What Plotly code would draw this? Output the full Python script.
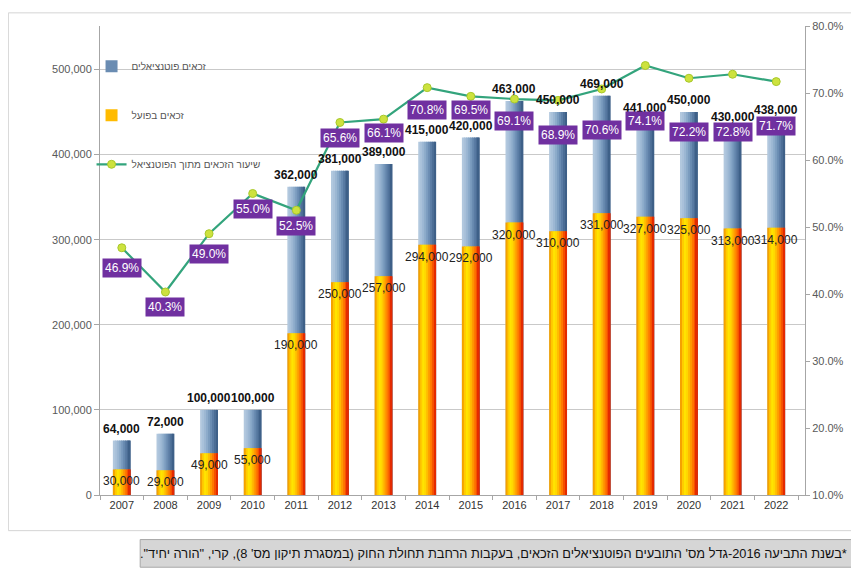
import plotly.graph_objects as go

# ---------------- data ----------------
years = list(range(2007, 2023))
potential = [64000, 72000, 100000, 100000, 362000, 381000, 389000, 415000,
             420000, 463000, 450000, 469000, 441000, 450000, 430000, 438000]
actual = [30000, 29000, 49000, 55000, 190000, 250000, 257000, 294000,
          292000, 320000, 310000, 331000, 327000, 325000, 313000, 314000]
rate = [46.9, 40.3, 49.0, 55.0, 52.5, 65.6, 66.1, 70.8,
        69.5, 69.1, 68.9, 70.6, 74.1, 72.2, 72.8, 71.7]

name_potential = "זכאים פוטנציאלים"
name_actual = "זכאים בפועל"
name_rate = "שיעור הזכאים מתוך הפוטנציאל"
note = "*בשנת התביעה 2016-גדל מס' התובעים הפוטנציאלים הזכאים, בעקבות הרחבת תחולת החוק (במסגרת תיקון מס' 8), קרי, \"הורה יחיד\"."

# ---------------- style ----------------
FONT = "Liberation Sans, Arial, sans-serif"
blue_stripes = ['#b2c8de', '#a9c1da', '#9cb7d3', '#8cabca', '#7b9cbf',
                '#6a8cb2', '#5a7ca4', '#4b6d95', '#3e6088']
orange_stripes = ['#f5a200', '#ffcc00', '#ffe400', '#ffd800', '#ffbb00',
                  '#ff9a00', '#ff7800', '#f55000', '#e42a00']
bar_w = 0.41
n = len(blue_stripes)
sw = bar_w / n
# per-label vertical offsets (px) for percentage boxes
rate_label_shift = [-20, -15, -20, -15, -16, -16, -14, -22,
                    -14, -22, -35, -41, -55, -54, -58, -44]

fig = go.Figure()

for i, c in enumerate(blue_stripes):
    w = sw if i == n - 1 else sw * 1.6
    fig.add_trace(go.Bar(
        x=years, y=potential, width=w, offset=-bar_w / 2 + i * sw,
        marker=dict(color=c, line=dict(width=0)), name=name_potential,
        legendgroup="pot", showlegend=(i == 5), hoverinfo="skip"))
for i, c in enumerate(orange_stripes):
    w = sw if i == n - 1 else sw * 1.6
    fig.add_trace(go.Bar(
        x=years, y=actual, width=w, offset=-bar_w / 2 + i * sw,
        marker=dict(color=c, line=dict(width=0)), name=name_actual,
        legendgroup="act", showlegend=(i == 4), hoverinfo="skip"))

fig.add_trace(go.Scatter(
    x=years, y=rate, yaxis="y2", mode="lines+markers", name=name_rate,
    legendgroup="rate",
    line=dict(color="#33a47c", width=2.2),
    marker=dict(symbol="circle", size=8, color="#cde23e",
                line=dict(color="#a8c82c", width=1))))

ann = []
for y, t in zip(years, potential):
    ann.append(dict(x=y, y=t, xref="x", yref="y", text=f"<b>{t:,}</b>",
                    showarrow=False, yanchor="bottom", yshift=3,
                    font=dict(family=FONT, size=12, color="#111")))
for y, a in zip(years, actual):
    ann.append(dict(x=y, y=a, xref="x", yref="y", text=f"{a:,}",
                    showarrow=False, yanchor="middle", yshift=-12,
                    font=dict(family=FONT, size=12, color="#222")))
for y, r, s in zip(years, rate, rate_label_shift):
    ann.append(dict(x=y, y=r, xref="x", yref="y2", text=f"{r:.1f}%",
                    showarrow=False, yanchor="middle", yshift=s,
                    bgcolor="#7030a0", borderpad=2,
                    font=dict(family=FONT, size=12, color="white")))
ann.append(dict(x=1.062, y=-0.124, xref="paper", yref="paper",
                text="\u202B" + note + "\u202C",
                showarrow=False, xanchor="right", yanchor="middle",
                font=dict(family=FONT, size=12.8, color="#111")))

shapes = [
    dict(type="rect", xref="paper", yref="paper",
         x0=-0.130, x1=1.067, y0=-0.076, y1=1.028,
         line=dict(color="#d4d4d4", width=1), fillcolor="rgba(0,0,0,0)",
         layer="below"),
    dict(type="rect", xref="paper", yref="paper",
         x0=0.057, x1=1.071, y0=-0.154, y1=-0.095,
         line=dict(color="#a8a8a8", width=1), fillcolor="#d6d6d6",
         layer="below"),
]

fig.update_layout(
    width=851, height=562,
    margin=dict(l=92, r=54, t=14, b=75),
    paper_bgcolor="white", plot_bgcolor="white",
    barmode="overlay",
    font=dict(family=FONT, size=11, color="#555"),
    xaxis=dict(range=[2006.5, 2022.66], tickmode="linear", tick0=2007,
               dtick=1, showline=True, linecolor="#a6a6a6",
               ticks="", tickfont=dict(size=11, color="#333"),
               showgrid=False, zeroline=False,
               minor=dict(tick0=2006.5, dtick=1, ticks="outside",
                          ticklen=4, tickcolor="#a6a6a6", showgrid=False)),
    yaxis=dict(range=[0, 551000], dtick=100000, tickformat=",",
               showline=True, linecolor="#a6a6a6", ticks="outside",
               ticklen=5, tickcolor="#a6a6a6", showgrid=True,
               gridcolor="#c9c9c9", gridwidth=1, zeroline=False,
               tickfont=dict(size=11, color="#595959")),
    yaxis2=dict(range=[10, 80], dtick=10, tickformat=".1f", ticksuffix="%",
                overlaying="y", side="right", showline=True,
                linecolor="#a6a6a6", ticks="outside", ticklen=4,
                tickcolor="#a6a6a6", showgrid=False, zeroline=False,
                tickfont=dict(size=11, color="#595959")),
    legend=dict(x=-0.012, y=0.945, xanchor="left", yanchor="top",
                bgcolor="rgba(0,0,0,0)", tracegroupgap=30,
                font=dict(size=10, color="#555")),
    annotations=ann, shapes=shapes,
)

fig.write_html("out.html")
